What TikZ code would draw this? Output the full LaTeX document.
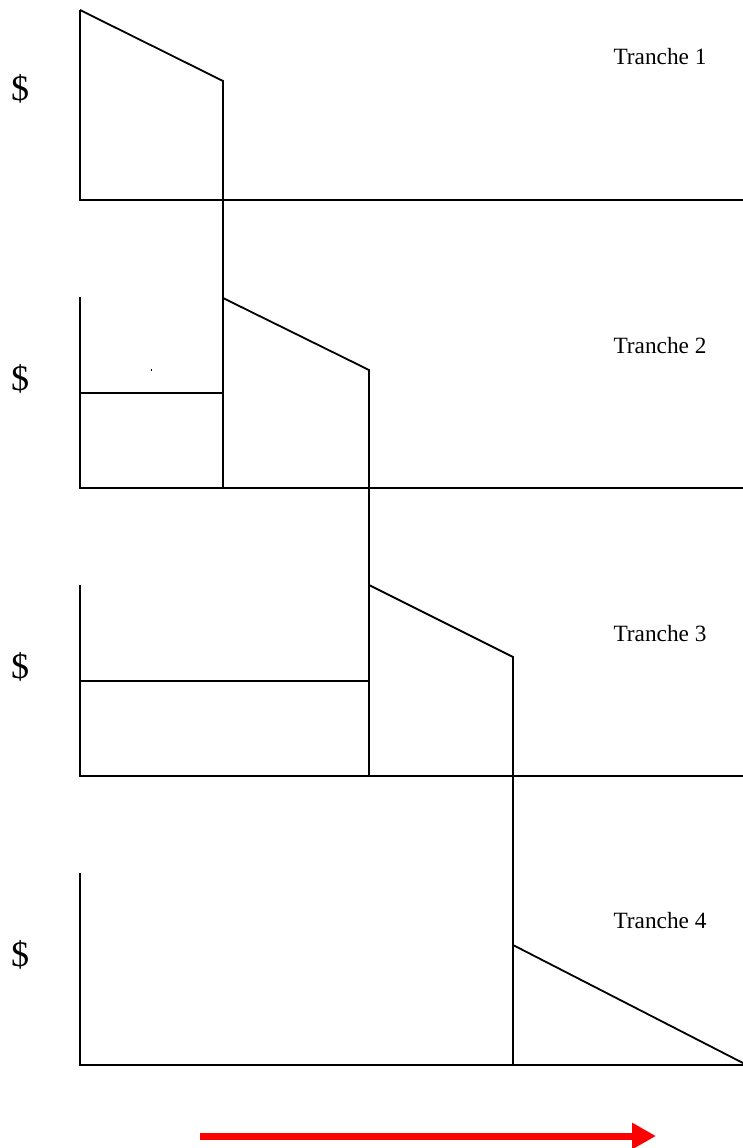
\documentclass[tikz,border=0pt]{standalone}
\usepackage{fontspec}
\setmainfont{Liberation Serif}
\usetikzlibrary{arrows.meta}
\begin{document}
\begin{tikzpicture}[x=1pt,y=-1pt,
  edge/.style={line width=1.8pt,line join=miter},
  cur/.style={font=\fontsize{36}{36}\selectfont},
  lbl/.style={font=\fontsize{23.3}{23.3}\selectfont},
  flow/.style={red,line width=7pt,-{Triangle[length=24pt,width=25pt]}}]
\useasboundingbox (0,0) rectangle (743,1148);

% panel baselines and axes
\foreach \i/\top/\base in {1/10/200, 2/297/488, 3/585/776, 4/873/1065} {
  \coordinate (a\i) at (80,\top);
  \coordinate (o\i) at (80,\base);
  \coordinate (e\i) at (743,\base);
  \draw[edge] (a\i) -- (o\i) -- (e\i);
}

% tranche 1
\coordinate (p1) at (223,81);
\coordinate (q1) at (223,488);
\draw[edge] (a1) -- (p1) -- (q1);

% tranche 2
\coordinate (s2) at (223,298);
\coordinate (p2) at (369,370);
\coordinate (q2) at (369,776);
\coordinate (h2l) at (80,393);
\coordinate (h2r) at (223,393);
\draw[edge] (s2) -- (p2) -- (q2);
\draw[edge] (h2l) -- (h2r);
\fill (151,369) rectangle (152,371);

% tranche 3
\coordinate (s3) at (369,585);
\coordinate (p3) at (513,657);
\coordinate (q3) at (513,1065);
\coordinate (h3l) at (80,681);
\coordinate (h3r) at (369,681);
\draw[edge] (s3) -- (p3) -- (q3);
\draw[edge] (h3l) -- (h3r);

% tranche 4
\coordinate (s4) at (513,945);
\coordinate (p4) at (743,1063);
\draw[edge] (s4) -- (p4);

% labels
\foreach \i/\y in {1/89, 2/379, 3/667, 4/955} {
  \node[cur] (d\i) at (20,\y) {\$};
}
\foreach \i/\y in {1/57, 2/346, 3/634, 4/921} {
  \node[lbl] (t\i) at (660,\y) {Tranche \i};
}

% direction arrow
\coordinate (r0) at (200,1136);
\coordinate (r1) at (656,1136);
\draw[flow] (r0) -- (r1);
\end{tikzpicture}
\end{document}
